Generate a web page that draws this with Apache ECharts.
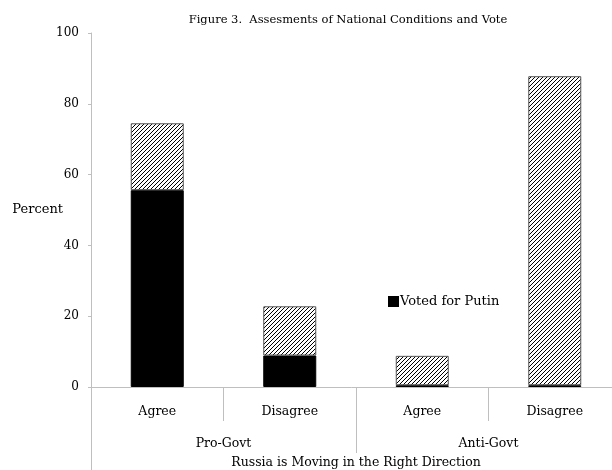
<!DOCTYPE html>
<html>
<head>
<meta charset="utf-8">
<script src="https://cdn.jsdelivr.net/npm/echarts@6/dist/echarts.min.js"></script>
<style>
  html, body { margin: 0; padding: 0; background: #fff; }
  #chart { width: 612px; height: 470px; }
</style>
</head>
<body>
<div id="chart"></div>
<script>
  // data
  var categories = ['Agree', 'Disagree', 'Agree', 'Disagree'];
  var groups = ['Pro-Govt', 'Anti-Govt'];
  var outerLabel = ['Russia is Moving in the Right Direction'];
  var votedPutin = [55.6, 8.9, 0.5, 0.5];
  var totals = [74.5, 22.8, 8.8, 87.8];
  var yTicks = {min: 0, max: 100, interval: 20};

  var rest = totals.map(function (t, i) { return +(t - votedPutin[i]).toFixed(1); });

  // hatch pattern for the upper part of the bars
  var pat = document.createElement('canvas');
  pat.width = 4; pat.height = 4;
  var ctx = pat.getContext('2d');
  ctx.fillStyle = '#fff';
  ctx.fillRect(0, 0, 4, 4);
  ctx.strokeStyle = '#000';
  ctx.lineWidth = 1;
  ctx.beginPath();
  ctx.moveTo(0, 4); ctx.lineTo(4, 0);
  ctx.moveTo(-1, 1); ctx.lineTo(1, -1);
  ctx.moveTo(3, 5); ctx.lineTo(5, 3);
  ctx.stroke();

  var font = 'DejaVu Serif, Liberation Serif, serif';
  var grey = '#bfbfbf';
  var chart = echarts.init(document.getElementById('chart'));

  var option = {
    animation: false,
    textStyle: {fontFamily: font, color: '#000'},
    title: {
      text: 'Figure 3.  Assesments of National Conditions and Vote',
      left: 343, top: 9, textAlign: 'center',
      textStyle: {fontFamily: font, fontSize: 11.5, fontWeight: 'normal', color: '#000'}
    },
    legend: {
      data: ['Voted for Putin'],
      left: 383, top: 290,
      icon: 'rect', itemWidth: 9, itemHeight: 9, itemGap: 4,
      textStyle: {fontFamily: font, fontSize: 13, color: '#000', padding: [0, 0, 0, -3]}
    },
    grid: {left: 91, right: -9, top: 33, bottom: 83, outerBoundsMode: 'none'},
    xAxis: [{
      type: 'category',
      data: categories,
      position: 'bottom',
      axisLine: {lineStyle: {color: grey}},
      axisTick: {show: true, length: 34, lineStyle: {color: grey}},
      axisLabel: {fontFamily: font, fontSize: 12.5, color: '#000', margin: 18}
    }, {
      type: 'category',
      data: groups,
      position: 'bottom',
      axisLine: {show: false},
      axisTick: {show: true, length: 66, lineStyle: {color: grey}},
      axisLabel: {fontFamily: font, fontSize: 12.5, color: '#000', margin: 50}
    }, {
      type: 'category',
      data: outerLabel,
      position: 'bottom',
      axisLine: {show: false},
      axisTick: {show: true, length: 90, lineStyle: {color: grey}},
      axisLabel: {fontFamily: font, fontSize: 12.5, color: '#000', margin: 69}
    }],
    yAxis: {
      type: 'value',
      min: yTicks.min, max: yTicks.max, interval: yTicks.interval,
      name: 'Percent',
      nameLocation: 'middle', nameRotate: 0, nameGap: 28,
      nameMoveOverlap: false,
      nameTextStyle: {fontFamily: font, fontSize: 13, color: '#000'},
      axisLine: {show: true, lineStyle: {color: grey}},
      axisTick: {show: true, length: 3, lineStyle: {color: grey}},
      splitLine: {show: false},
      axisLabel: {fontFamily: font, fontSize: 12, color: '#000', margin: 12}
    },
    series: [{
      name: 'Voted for Putin',
      type: 'bar',
      stack: 'vote',
      barWidth: '40%',
      data: votedPutin,
      itemStyle: {color: '#000', borderColor: '#000', borderWidth: 1}
    }, {
      name: 'Other',
      type: 'bar',
      stack: 'vote',
      barWidth: '40%',
      data: rest,
      itemStyle: {color: {image: pat, repeat: 'repeat'}, borderColor: '#555', borderWidth: 1}
    }]
  };

  chart.setOption(option);
</script>
</body>
</html>
